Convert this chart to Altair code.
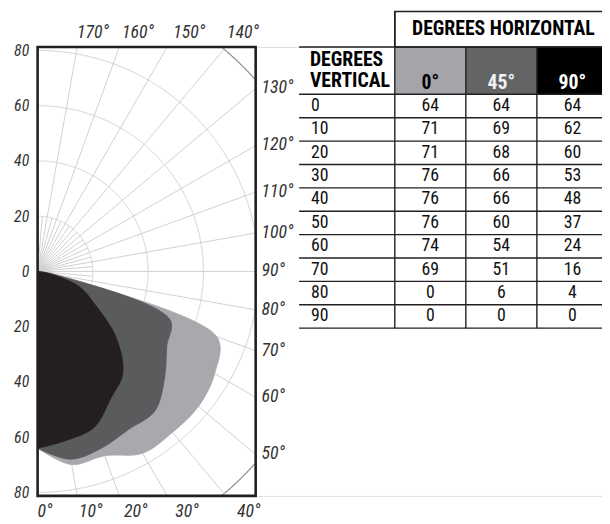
import numpy as np
import pandas as pd
import altair as alt

# ---------------- data ----------------
V_ANGLES = [0, 10, 20, 30, 40, 50, 60, 70, 80, 90]
H0 = [64, 71, 71, 76, 76, 76, 74, 69, 0, 0]
H45 = [64, 69, 68, 66, 66, 60, 54, 51, 6, 0]
H90 = [64, 62, 60, 53, 48, 37, 24, 16, 4, 0]
SERIES = ["0°", "45°", "90°"]
SERIES_VALUES = [H0, H45, H90]
SHAPE_COLORS = ["#a7a9ac", "#5a5b5d", "#231f20"]
HEADER_FILL = ["#a3a5a8", "#636466", "#000000"]
HEADER_TEXT = ["#000000", "#f2f2f2", "#ffffff"]

GRID_R = [20, 40, 60, 80]
OUTER_R = 105
RIGHT_LABELS = [130, 120, 110, 100, 90, 80, 70, 60, 50]
TOP_LABELS = [170, 160, 150, 140]
BOTTOM_LABELS = [0, 10, 20, 30, 40]
Y_TICKS = [-80, -60, -40, -20, 0, 20, 40, 60, 80]

TITLE_H = "DEGREES HORIZONTAL"
TITLE_V = ["DEGREES", "VERTICAL"]

# ---------------- layout ----------------
PX = 2.8            # pixels per unit
W, H = 572, 455     # plot area (whole drawing area right of the left axis)
YT = H / 2 / PX     # frame half-height in units
XD = W / PX
XR = 221 / PX       # frame right edge in units

FONT = "Roboto Condensed, Open Sans Condensed, DejaVu Sans Condensed, sans-serif"
GRID_COLOR = "#cfcfcf"

xs = alt.Scale(domain=[0, XD], nice=False, zero=False)
ys = alt.Scale(domain=[-YT, YT], nice=False, zero=False)
yaxis = alt.Axis(values=Y_TICKS, labelExpr="abs(datum.value)", title=None,
                 ticks=False, domain=False, grid=False, labelFont=FONT,
                 labelFontStyle="italic", labelFontSize=16, labelColor="#333333",
                 labelPadding=9)


def PX_(f):
    return alt.X(f, type="quantitative", scale=xs, axis=None)


def PY_(f):
    return alt.Y(f, type="quantitative", scale=ys, axis=yaxis)


# ---- grid arcs (clipped to the frame) ----
rows = []
seg_id = 0
for r in GRID_R + [OUTER_R]:
    th = np.radians(np.arange(0, 180.001, 0.25))
    x = r * np.sin(th)
    y = -r * np.cos(th)
    inside = (x <= XR + 1e-9) & (np.abs(y) <= YT + 1e-9)
    prev = False
    for xi, yi, ok in zip(x, y, inside):
        if ok and not prev:
            seg_id += 1
        if ok:
            rows.append({"x": xi, "y": yi, "seg": seg_id, "outer": r == OUTER_R})
        prev = ok
arcs = pd.DataFrame(rows)
arcs["i"] = range(len(arcs))


def frame_hit(theta_deg):
    t = np.radians(theta_deg)
    dx, dy = np.sin(t), -np.cos(t)
    cands = []
    if dx > 1e-9:
        cands.append(XR / dx)
    if abs(dy) > 1e-9:
        cands.append(YT / abs(dy))
    k = min(cands)
    return dx * k, dy * k


sp = []
for a in range(0, 181, 10):
    ex, ey = frame_hit(a)
    sp.append({"x": 0.0, "y": 0.0, "x2": ex, "y2": ey})
for a in range(5, 180, 10):
    t = np.radians(a)
    sp.append({"x": 0.0, "y": 0.0, "x2": 20 * np.sin(t), "y2": -20 * np.cos(t)})
spokes = pd.DataFrame(sp)

grid_layer = alt.Chart(arcs[~arcs.outer]).mark_line(
    color=GRID_COLOR, strokeWidth=1, clip=True
).encode(x=PX_("x"), y=PY_("y"), detail="seg:N", order="i:Q")

outer_layer = alt.Chart(arcs[arcs.outer]).mark_line(
    color="#8f8f8f", strokeWidth=1.2, clip=True
).encode(x=PX_("x"), y=PY_("y"), detail="seg:N", order="i:Q")

spoke_layer = alt.Chart(spokes).mark_rule(color=GRID_COLOR, strokeWidth=1).encode(
    x=PX_("x"), y=PY_("y"), x2="x2:Q", y2="y2:Q")

# ---- intensity shapes ----
shape_layers = []
for name, vals, col in zip(SERIES, SERIES_VALUES, SHAPE_COLORS):
    df = pd.DataFrame({"v": V_ANGLES, "r": vals, "series": name})
    shape_layers.append(
        alt.Chart(df).transform_calculate(
            px="datum.r * sin(datum.v * PI / 180)",
            py="-datum.r * cos(datum.v * PI / 180)",
        ).mark_line(fill=col, stroke=col, strokeWidth=0.8, interpolate="catmull-rom", clip=True)
        .encode(x=PX_("px"), y=PY_("py"), order=alt.Order("v:Q", sort="descending"))
    )

# ---- frame ----
frame_df = pd.DataFrame({"x": [0.0], "x2": [XR], "y": [-YT], "y2": [YT]})
frame_layer = alt.Chart(frame_df).mark_rect(
    fillOpacity=0, stroke="#231f20", strokeWidth=2.6
).encode(x=PX_("x"), x2="x2:Q", y=PY_("y"), y2="y2:Q")

# ---- degree labels ----
lab_r, lab_tb = [], []
for a in RIGHT_LABELS:
    t = np.radians(a)
    lab_r.append({"t": f"{a}°", "x": XR + 6 / PX, "y": -XR * np.cos(t) / np.sin(t)})
ytop = YT + 9 / PX
yray = YT + 16 / PX
for a in TOP_LABELS:
    xx = yray * np.tan(np.radians(180 - a)) - 3 / PX
    lab_tb.append({"t": f"{a}°", "x": min(xx, XR - 29 / PX), "y": ytop})
ybot = -(YT + 21 / PX)
for a in BOTTOM_LABELS:
    xx = yray * np.tan(np.radians(a)) - 1 / PX
    lab_tb.append({"t": f"{a}°", "x": max(0.0, min(xx, XR - 19 / PX)), "y": ybot})
label_r = alt.Chart(pd.DataFrame(lab_r)).mark_text(
    align="left", baseline="middle", font=FONT, fontStyle="italic",
    fontSize=18, color="#333333"
).encode(x=PX_("x"), y=PY_("y"), text="t:N")
label_tb = alt.Chart(pd.DataFrame(lab_tb)).mark_text(
    align="left", baseline="alphabetic", font=FONT, fontStyle="italic",
    fontSize=18, color="#333333"
).encode(x=PX_("x"), y=PY_("y"), text="t:N")

polar = alt.layer(grid_layer, outer_layer, spoke_layer, *shape_layers,
                  frame_layer, label_r, label_tb)

# ---------------- table (page-pixel coordinates) ----------------
tsx = alt.Scale(domain=[38, 38 + W], nice=False, zero=False)
tsy = alt.Scale(domain=[44 + H, 44], nice=False, zero=False)


def TX(f):
    return alt.X(f, type="quantitative", scale=tsx, axis=None)


def TY(f):
    return alt.Y(f, type="quantitative", scale=tsy, axis=None)


COL_LEFT = [400, 472, 544]
COL_W = 72
T_TOP, T_HDR, T_BODY = 8, 44, 92
ROW_H = 23.7
T_LEFT, T_RIGHT = 303, 625
T_BOTTOM = T_BODY + ROW_H * len(V_ANGLES)

hdr = pd.DataFrame({
    "x": COL_LEFT, "x2": [c + COL_W for c in COL_LEFT],
    "y": [T_HDR] * 3, "y2": [T_BODY] * 3,
    "fill": HEADER_FILL, "tc": HEADER_TEXT, "label": SERIES,
    "cx": [c + COL_W / 2 for c in COL_LEFT], "ty": [87] * 3,
})
hdr_rect = alt.Chart(hdr).mark_rect().encode(
    x=TX("x"), x2="x2:Q", y=TY("y"), y2="y2:Q",
    fill=alt.Fill("fill:N", scale=None))
hdr_text = alt.Chart(hdr).mark_text(
    align="center", baseline="alphabetic", font=FONT, fontWeight="bold", fontSize=20
).encode(x=TX("cx"), y=TY("ty"), text="label:N", color=alt.Color("tc:N", scale=None))

box = pd.DataFrame({"x": [400], "x2": [T_RIGHT], "y": [T_TOP], "y2": [T_HDR]})
box_layer = alt.Chart(box).mark_rect(fillOpacity=0, stroke="#231f20", strokeWidth=1.6).encode(
    x=TX("x"), x2="x2:Q", y=TY("y"), y2="y2:Q")

hl = [T_HDR, T_BODY] + [T_BODY + ROW_H * (k + 1) for k in range(len(V_ANGLES))]
hlines = pd.DataFrame({"y": hl, "x": T_LEFT, "x2": T_RIGHT})
hline_layer = alt.Chart(hlines).mark_rule(color="#231f20", strokeWidth=1.4).encode(
    x=TX("x"), x2="x2:Q", y=TY("y"))
vl = pd.DataFrame({"x": COL_LEFT + [COL_LEFT[-1] + COL_W],
                   "y": [T_TOP, T_HDR, T_HDR, T_HDR],
                   "y2": [T_BOTTOM] * 4})
vline_layer = alt.Chart(vl).mark_rule(color="#231f20", strokeWidth=1.4).encode(
    x=TX("x"), y=TY("y"), y2="y2:Q")

titles = pd.DataFrame({
    "t": [TITLE_H] + TITLE_V,
    "x": [510, 314, 314],
    "y": [26, 57, 79],
})
title_h = alt.Chart(titles.iloc[[0]]).mark_text(
    align="center", baseline="middle", font=FONT, fontWeight="bold", fontSize=20, color="#000000"
).encode(x=TX("x"), y=TY("y"), text="t:N")
title_v = alt.Chart(titles.iloc[1:]).mark_text(
    align="left", baseline="middle", font=FONT, fontWeight="bold", fontSize=20, color="#000000"
).encode(x=TX("x"), y=TY("y"), text="t:N")

cells = []
for i, v in enumerate(V_ANGLES):
    yc = T_BODY + ROW_H * (i + 0.5)
    cells.append({"t": str(v), "x": 315, "y": yc, "kind": "row"})
    for j, vals in enumerate(SERIES_VALUES):
        cells.append({"t": str(vals[i]), "x": COL_LEFT[j] + COL_W / 2, "y": yc, "kind": "val"})
cells = pd.DataFrame(cells)
row_text = alt.Chart(cells[cells.kind == "row"]).mark_text(
    align="left", baseline="middle", font=FONT, fontSize=18, color="#111111"
).encode(x=TX("x"), y=TY("y"), text="t:N")
val_text = alt.Chart(cells[cells.kind == "val"]).mark_text(
    align="center", baseline="middle", font=FONT, fontSize=18, color="#111111"
).encode(x=TX("x"), y=TY("y"), text="t:N")

table = alt.layer(hdr_rect, hdr_text, box_layer, hline_layer, vline_layer,
                  title_h, title_v, row_text, val_text)

chart = alt.layer(polar, table).resolve_scale(x="independent", y="independent").properties(
    width=W, height=H,
    autosize=alt.AutoSizeParams(type="none"),
    padding={"left": 30, "top": 36, "right": 0, "bottom": 24},
).configure_view(stroke=None).configure(background="white")

chart.save("out.html", embed_options={"renderer": "svg", "actions": False})
